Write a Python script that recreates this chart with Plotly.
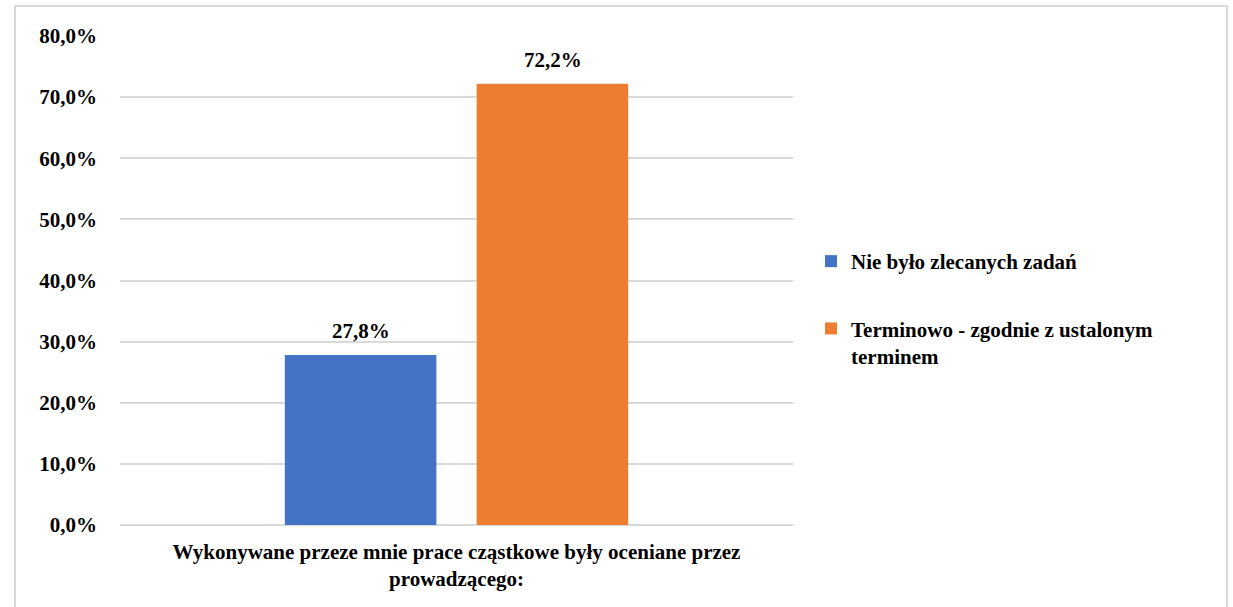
import plotly.graph_objects as go

categories = ["Wykonywane przeze mnie prace cząstkowe były oceniane przez<br>prowadzącego:"]
series_names = ["Nie było zlecanych zadań", "Terminowo - zgodnie z ustalonym<br>terminem"]
series_values = [[27.8], [72.2]]
series_colors = ["#4472C4", "#ED7D31"]
tick_values = [0, 10, 20, 30, 40, 50, 60, 70, 80]


def fmt(v):
    return f"{v:.1f}".replace(".", ",") + "%"


def bold(s):
    return "<b>" + s.replace("<br>", "</b><br><b>") + "</b>"


FONT = "'Liberation Serif', 'Times New Roman', Times, serif"
FS = 21

L, R, T, B = 120, 440, 36, 82
W, H = 1233, 607
pw, ph = W - L - R, H - T - B

fig = go.Figure()
annotations = []
offsets = [-96, 96]
for i, (name, vals, col) in enumerate(zip(series_names, series_values, series_colors)):
    fig.add_trace(go.Bar(
        x=categories, y=vals, name=bold(name), marker_color=col,
        marker_line_width=0, legendgroup=f"g{i}",
    ))
    for c, v in zip(categories, vals):
        annotations.append(dict(
            x=c, y=v, xref="x", yref="y", text=bold(fmt(v)), showarrow=False,
            yanchor="bottom", yshift=10, xshift=offsets[i],
            font=dict(family=FONT, size=FS, color="#000000"),
        ))

fig.update_layout(
    width=W, height=H,
    margin=dict(l=L, r=R, t=T, b=B),
    paper_bgcolor="white", plot_bgcolor="white",
    barmode="group", bargap=0.43, bargroupgap=0.21,
    font=dict(family=FONT, size=FS, color="#000000"),
    showlegend=True,
    legend=dict(
        x=(811 - L) / pw, xanchor="left",
        y=(H - B - 241) / ph, yanchor="top",
        font=dict(family=FONT, size=FS, color="#000000"),
        traceorder="grouped", tracegroupgap=37, valign="top",
        itemwidth=30,
    ),
    xaxis=dict(
        showgrid=False, showline=False, ticks="",
        tickmode="array", tickvals=categories, ticktext=[bold(c) for c in categories],
        tickfont=dict(family=FONT, size=FS, color="#000000"),
        ticklabelstandoff=12,
    ),
    yaxis=dict(
        range=[0, 80], tickmode="array", tickvals=tick_values,
        ticktext=[bold(fmt(v)) for v in tick_values],
        showgrid=True, gridcolor="#d9d9d9", gridwidth=2,
        zeroline=True, zerolinecolor="#d9d9d9", zerolinewidth=2,
        showline=False, ticks="", ticklabelstandoff=22,
        tickfont=dict(family=FONT, size=FS, color="#000000"),
    ),
    annotations=annotations,
    shapes=[dict(
        type="rect", xref="paper", yref="paper",
        x0=(15 - L) / pw, x1=(1227 - L) / pw,
        y0=(H - B - 612) / ph, y1=(H - B - 6) / ph,
        line=dict(color="#d9d9d9", width=2), fillcolor="rgba(0,0,0,0)", layer="below",
    )],
)

fig.write_html("out.html", config={"displayModeBar": False},
               post_script="document.body.style.margin='0';")
